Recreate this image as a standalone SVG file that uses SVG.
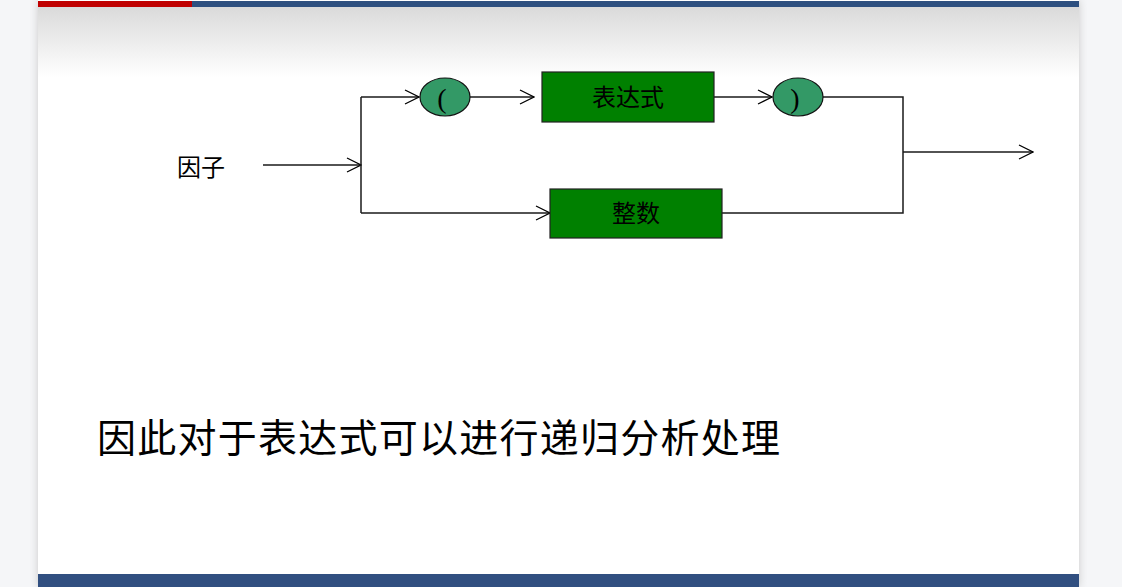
<svg xmlns="http://www.w3.org/2000/svg" width="1122" height="587" viewBox="0 0 1122 587">
  <defs>
    <linearGradient id="head" x1="0" y1="0" x2="0" y2="1">
      <stop offset="0" stop-color="#dadada"/>
      <stop offset="1" stop-color="#ffffff"/>
    </linearGradient>
    <filter id="shadow" x="-5%" y="-5%" width="110%" height="110%">
      <feGaussianBlur stdDeviation="4"/>
    </filter>
    <marker id="open" viewBox="0 0 16 16" markerWidth="16" markerHeight="16" refX="15" refY="8" orient="auto" markerUnits="userSpaceOnUse">
      <path d="M1,1 L15,8 L1,15" fill="none" stroke="#000" stroke-width="1.3"/>
    </marker>
    <style>
      .wire { fill: none; stroke: #1a1a1a; stroke-width: 1.5; }
      .box { fill: #008000; stroke: #222; stroke-width: 1.2; }
      .oval { fill: #339966; stroke: #111; stroke-width: 1.2; }
      .lbl { font-family: "Liberation Serif", "Noto Sans CJK SC", serif; font-size: 24px; fill: #000; text-anchor: middle; }
      .paren { font-family: "Liberation Serif", serif; font-size: 28px; fill: #000; text-anchor: middle; }
      .note { font-family: "Liberation Serif", "Noto Sans CJK SC", serif; font-size: 39px; fill: #000; }
    </style>
  </defs>

  <!-- page background and slide -->
  <rect x="0" y="0" width="1122" height="587" fill="#f5f6f8"/>
  <rect x="38" y="0" width="1041" height="587" fill="#c8c8c8" filter="url(#shadow)"/>
  <rect x="38" y="0" width="1041" height="587" fill="#ffffff"/>
  <rect x="38" y="7" width="1041" height="70" fill="url(#head)"/>
  <rect x="38" y="1" width="154" height="6" fill="#c00000"/>
  <rect x="192" y="1" width="887" height="6" fill="#2e5080"/>
  <rect x="38" y="574" width="1041" height="13" fill="#314f80"/>

  <!-- connectors -->
  <g id="connectors">
    <path class="wire" d="M263,165 H361" marker-end="url(#open)"/>
    <path class="wire" d="M361,97 V213"/>
    <path class="wire" d="M361,97 H419" marker-end="url(#open)"/>
    <path class="wire" d="M470,97 H534" marker-end="url(#open)"/>
    <path class="wire" d="M714,97 H772" marker-end="url(#open)"/>
    <path class="wire" d="M823,97 H903 V213 H722"/>
    <path class="wire" d="M903,152 H1033" marker-end="url(#open)"/>
    <path class="wire" d="M361,213 H550" marker-end="url(#open)"/>
  </g>

  <g id="factor">
    <text x="177" y="176" font-family="Liberation Serif, Noto Sans CJK SC, serif" font-size="24" fill="#000">因子</text>
  </g>

  <g id="lparen">
    <ellipse class="oval" cx="445" cy="97" rx="25" ry="19"/>
    <text class="paren" x="442" y="108">(</text>
  </g>

  <g id="expr">
    <rect class="box" x="542" y="72" width="172" height="50"/>
    <text class="lbl" x="628" y="106">表达式</text>
  </g>

  <g id="rparen">
    <ellipse class="oval" cx="798" cy="97" rx="25" ry="19"/>
    <text class="paren" x="795" y="108">)</text>
  </g>

  <g id="integer">
    <rect class="box" x="550" y="189" width="172" height="49"/>
    <text class="lbl" x="636" y="222">整数</text>
  </g>

  <g id="caption">
    <text class="note" x="97" y="452" textLength="683" lengthAdjust="spacing">因此对于表达式可以进行递归分析处理</text>
  </g>
</svg>
